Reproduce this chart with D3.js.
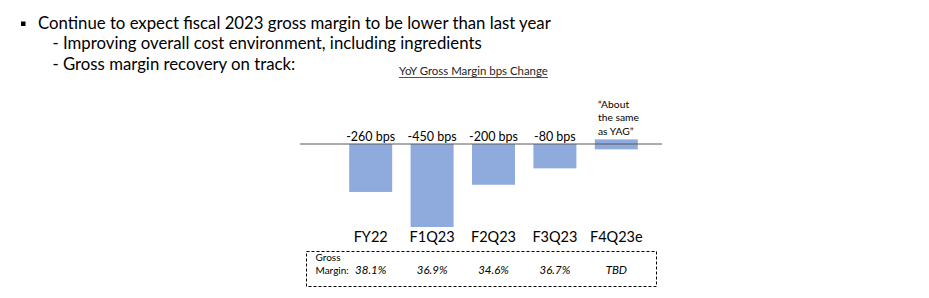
<!DOCTYPE html>
<html><head><meta charset="utf-8">
<script src="https://cdn.jsdelivr.net/npm/d3@7"></script>
<style>body{margin:0;background:#fff}svg{display:block}</style>
</head><body><div id="chart"></div>
<script>
const bullets = ["Continue to expect fiscal 2023 gross margin to be lower than last year"];
const subBullets = ["- Improving overall cost environment, including ingredients", "- Gross margin recovery on track:"];
const chartTitle = "YoY Gross Margin bps Change";
const categories = ["FY22", "F1Q23", "F2Q23", "F3Q23", "F4Q23e"];
const bpsLabels = ["-260 bps", "-450 bps", "-200 bps", "-80 bps", ""];
const barTop = [0, 0, 0, 0, 25];
const barBottom = [-260, -450, -221, -132, -29];
const annotation = ["\u201CAbout", "the same", "as YAG\u201D"];
const marginLabel = ["Gross", "Margin:"];
const grossMargin = ["38.1%", "36.9%", "34.6%", "36.7%", "TBD"];

const W = 929, H = 298;
const FONT = "Lato, 'Open Sans', sans-serif";
const svg = d3.select("#chart").append("svg").attr("width", W).attr("height", H);

function fitSize(sel, target) {
  const w = sel.node().getComputedTextLength();
  const fs = +sel.attr("font-size");
  const nfs = fs * target / w;
  sel.attr("font-size", nfs);
  return nfs;
}

// Bullet text
svg.append("rect").attr("x", 21).attr("y", 21.5).attr("width", 4.5).attr("height", 4.5).attr("fill", "#000");
const l1 = svg.append("text").attr("x", 38).attr("y", 29).attr("font-family", FONT).attr("font-size", 17)
  .attr("fill", "#000").text(bullets[0]);
const mainSize = fitSize(l1, 513);
const subY = [49, 70];
subBullets.forEach((t, i) => {
  svg.append("text").attr("x", 52.5).attr("y", subY[i]).attr("font-family", FONT).attr("font-size", mainSize)
    .attr("fill", "#000").text(t);
});

// Chart title
const title = svg.append("text").attr("x", 399).attr("y", 75).attr("font-family", FONT)
  .attr("font-size", 11).attr("fill", "#262626").text(chartTitle);
fitSize(title, 149);
const tw = title.node().getComputedTextLength();
svg.append("line").attr("x1", 399).attr("x2", 399 + tw).attr("y1", 77.5).attr("y2", 77.5)
  .attr("stroke", "#262626").attr("stroke-width", 0.8);

const x = d3.scaleBand().domain(categories).range([340, 647]).paddingInner(0.3).paddingOuter(0.15);
const y = d3.scaleLinear().domain([0, -450]).range([144, 227]);

const bw = 43;
const cx = d => x(d) + x.bandwidth() / 2;

svg.append("g").selectAll("rect").data(categories).join("rect")
  .attr("x", d => cx(d) - bw / 2)
  .attr("y", (d, i) => y(barTop[i]))
  .attr("width", bw)
  .attr("height", (d, i) => y(barBottom[i]) - y(barTop[i]))
  .attr("fill", "#8FAADC");

svg.append("line").attr("x1", 300).attr("x2", 662).attr("y1", y(0)).attr("y2", y(0))
  .attr("stroke", "#595959").attr("stroke-width", 1);

svg.append("g").selectAll("text").data(categories).join("text")
  .attr("x", d => cx(d)).attr("y", 140.5).attr("text-anchor", "middle")
  .attr("font-family", FONT).attr("font-size", 12.5).attr("fill", "#000")
  .text((d, i) => bpsLabels[i]);

const annY = [107.5, 121.3, 135];
const annSel = annotation.map((t, i) =>
  svg.append("text").attr("x", 598).attr("y", annY[i]).attr("font-family", FONT)
    .attr("font-size", 11).attr("fill", "#000").text(t));
const annSize = fitSize(annSel[1], 41);
annSel.forEach(s => s.attr("font-size", annSize));

svg.append("g").selectAll("text").data(categories).join("text")
  .attr("x", d => cx(d)).attr("y", 242).attr("text-anchor", "middle")
  .attr("font-family", FONT).attr("font-size", 14.5).attr("fill", "#000").text(d => d);

// Gross margin box
svg.append("rect").attr("x", 306.5).attr("y", 251.5).attr("width", 350).attr("height", 35)
  .attr("fill", "none").attr("stroke", "#000").attr("stroke-width", 1).attr("stroke-dasharray", "3,2");
marginLabel.forEach((t, i) => {
  svg.append("text").attr("x", 315.5).attr("y", 261 + i * 12.5).attr("font-family", FONT)
    .attr("font-size", 10).attr("fill", "#000").text(t);
});
svg.append("g").selectAll("text").data(categories).join("text")
  .attr("x", d => cx(d)).attr("y", 274).attr("text-anchor", "middle")
  .attr("font-family", FONT).attr("font-size", 11.5).attr("font-style", "italic").attr("fill", "#000")
  .text((d, i) => grossMargin[i]);
</script></body></html>
